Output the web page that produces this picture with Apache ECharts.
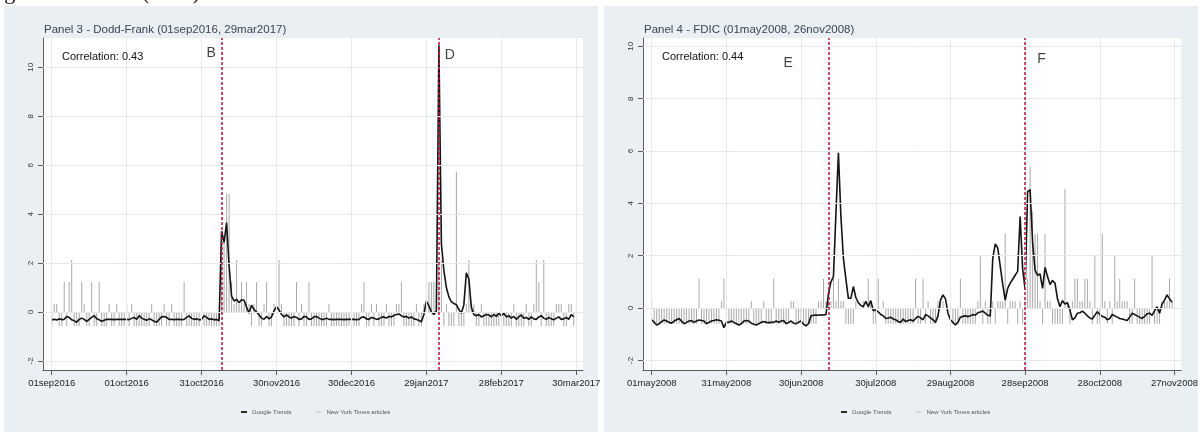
<!DOCTYPE html>
<html>
<head>
<meta charset="utf-8">
<script src="https://cdn.jsdelivr.net/npm/echarts@6/dist/echarts.min.js"></script>
<style>
html, body { margin: 0; padding: 0; background: #fff; }
#chart { width: 1201px; height: 434px; }
</style>
</head>
<body>
<div id="chart"></div>
<script>
// tick positions are day offsets from the first date of each panel
const xTicks = [0, 30, 60, 90, 120, 150, 180, 210];
const yTicks = [-2, 0, 2, 4, 6, 8, 10];
const xLabels3 = ['01sep2016', '01oct2016', '31oct2016', '30nov2016', '30dec2016', '29jan2017', '28feb2017', '30mar2017'];
const xLabels4 = ['01may2008', '31may2008', '30jun2008', '30jul2008', '29aug2008', '28sep2008', '28oct2008', '27nov2008'];

// Panel 3 - Dodd-Frank, daily from 01sep2016
const trends3 = [
    -0.32, -0.30, -0.33, -0.28, -0.31, -0.30, -0.18, -0.22, -0.32, -0.36,
    -0.42, -0.30, -0.25, -0.30, -0.38, -0.30, -0.22, -0.15, -0.28, -0.32,
    -0.38, -0.34, -0.30, -0.30, -0.30, -0.31, -0.30, -0.30, -0.30, -0.30,
    -0.30, -0.31, -0.26, -0.22, -0.30, -0.15, -0.25, -0.30, -0.34, -0.28,
    -0.32, -0.38, -0.42, -0.30, -0.20, -0.18, -0.22, -0.30, -0.30, -0.31,
    -0.30, -0.30, -0.31, -0.30, -0.22, -0.16, -0.26, -0.30, -0.28, -0.32,
    -0.30, -0.15, -0.22, -0.30, -0.28, -0.32, -0.30, -0.36, 3.30, 2.85,
    3.65, 1.90, 0.65, 0.45, 0.52, 0.38, 0.50, 0.48, 0.20, -0.05,
    0.28, 0.10, 0.00, -0.12, -0.25, -0.30, -0.18, -0.28, -0.20, 0.05,
    0.22, 0.08, -0.10, -0.20, -0.12, -0.20, -0.25, -0.18, -0.22, -0.30,
    -0.28, -0.18, -0.20, -0.30, -0.28, -0.20, -0.18, -0.25, -0.30, -0.30,
    -0.25, -0.30, -0.30, -0.31, -0.30, -0.30, -0.30, -0.31, -0.30, -0.30,
    -0.30, -0.30, -0.31, -0.30, -0.22, -0.20, -0.28, -0.30, -0.22, -0.25,
    -0.30, -0.28, -0.22, -0.20, -0.25, -0.18, -0.20, -0.14, -0.10, -0.08,
    -0.15, -0.20, -0.18, -0.25, -0.20, -0.28, -0.30, -0.35, -0.40, -0.10,
    0.45, 0.25, 0.00, -0.10, 0.05, 10.90, 2.80, 1.70, 1.00, 0.62,
    0.42, 0.35, 0.30, 0.10, -0.05, 0.30, 1.60, 1.35, 0.20, -0.10,
    -0.15, -0.10, -0.20, -0.15, -0.10, -0.12, -0.20, -0.10, -0.18, -0.05,
    -0.15, -0.05, -0.20, -0.15, -0.25, -0.18, -0.30, -0.20, -0.12, -0.25,
    -0.22, -0.30, -0.20, -0.28, -0.30, -0.20, -0.15, -0.25, -0.30, -0.22,
    -0.28, -0.32, -0.25, -0.20, -0.30, -0.28, -0.22, -0.30, -0.10, -0.20
];
const nyt3 = [
    -0.57, 0.33, 0.33, -0.57, -0.57, 1.23, -0.57, 1.23, 2.13, -0.57,
    -0.57, -0.57, 1.23, 0.33, -0.57, -0.57, 1.23, -0.57, -0.57, 1.23,
    -0.57, -0.57, -0.57, 0.33, -0.57, -0.57, 0.33, -0.57, -0.57, -0.57,
    0.33, -0.57, 0.33, -0.57, -0.57, -0.57, -0.57, -0.57, -0.57, -0.57,
    0.33, -0.57, -0.57, -0.57, -0.57, 0.33, -0.57, -0.57, 0.33, -0.57,
    -0.57, -0.57, -0.57, 1.23, -0.57, -0.57, -0.57, -0.57, -0.57, -0.57,
    0.33, -0.57, -0.57, -0.57, -0.57, -0.57, -0.57, -0.57, 2.13, 3.03,
    4.83, 4.83, 1.23, 0.33, 2.13, 0.33, 1.23, 0.33, 1.23, 0.33,
    -0.57, 0.33, 1.23, -0.57, -0.57, 0.33, 1.23, -0.57, -0.57, 0.33,
    -0.57, 2.13, 0.33, -0.57, -0.57, -0.57, -0.57, -0.57, 1.23, -0.57,
    0.33, -0.57, -0.57, 1.23, -0.57, -0.57, -0.57, -0.57, -0.57, -0.57,
    -0.57, 0.33, -0.57, -0.57, -0.57, -0.57, -0.57, -0.57, -0.57, -0.57,
    -0.57, -0.57, -0.57, -0.57, 0.33, 1.23, -0.57, -0.57, 0.33, -0.57,
    0.33, -0.57, -0.57, -0.57, 0.33, -0.57, -0.57, -0.57, 0.33, 0.33,
    1.23, -0.57, -0.57, -0.57, -0.57, -0.57, 0.33, -0.57, -0.57, 0.33,
    1.23, 1.23, 1.23, 1.23, 1.23, 2.13, 2.13, -0.57, 0.33, -0.57,
    -0.57, -0.57, 5.73, -0.57, -0.57, -0.57, 0.33, 2.13, 0.33, 0.33,
    -0.57, -0.57, 0.33, -0.57, -0.57, -0.57, -0.57, -0.57, -0.57, -0.57,
    0.33, -0.57, -0.57, -0.57, -0.57, 0.33, -0.57, -0.57, -0.57, -0.57,
    0.33, -0.57, -0.57, 0.33, 2.13, 1.23, -0.57, 2.13, -0.57, -0.57,
    -0.57, -0.57, 0.33, 0.33, 0.33, -0.57, -0.57, 0.33, 0.33, -0.57
];

// Panel 4 - FDIC, daily from 01may2008
const trends4 = [
    -0.45, -0.55, -0.65, -0.60, -0.52, -0.46, -0.50, -0.55, -0.58, -0.50,
    -0.45, -0.40, -0.50, -0.60, -0.55, -0.50, -0.48, -0.55, -0.50, -0.46,
    -0.48, -0.50, -0.60, -0.55, -0.50, -0.48, -0.45, -0.47, -0.50, -0.75,
    -0.55, -0.55, -0.50, -0.55, -0.60, -0.65, -0.60, -0.50, -0.48, -0.50,
    -0.58, -0.62, -0.65, -0.60, -0.55, -0.52, -0.55, -0.56, -0.55, -0.55,
    -0.50, -0.55, -0.50, -0.48, -0.60, -0.55, -0.50, -0.58, -0.60, -0.55,
    -0.50, -0.62, -0.68, -0.60, -0.30, -0.28, -0.27, -0.28, -0.26, -0.27,
    -0.25, 0.55, 1.00, 1.20, 3.60, 5.93, 3.50, 1.90, 1.10, 0.37,
    0.37, 0.82, 0.40, 0.20, 0.10, 0.05, 0.25, 0.05, 0.28, -0.10,
    -0.08, -0.15, -0.25, -0.30, -0.40, -0.38, -0.35, -0.42, -0.45, -0.52,
    -0.55, -0.42, -0.52, -0.48, -0.45, -0.50, -0.40, -0.32, -0.38, -0.45,
    -0.25, -0.30, -0.38, -0.45, -0.55, -0.30, 0.30, 0.50, 0.35, -0.20,
    -0.45, -0.55, -0.65, -0.55, -0.35, -0.32, -0.30, -0.33, -0.30, -0.25,
    -0.28, -0.18, -0.15, -0.12, -0.20, -0.28, -0.30, 1.90, 2.45, 2.30,
    1.60, 0.90, 0.30, 0.75, 0.95, 1.10, 1.25, 1.40, 3.50, 1.50,
    0.70, 4.45, 4.52, 2.50, 1.45, 1.25, 1.30, 0.75, 1.55, 1.20,
    0.90, 1.05, 0.95, 0.35, 0.05, 0.28, 0.15, 0.20, -0.08, -0.45,
    -0.38, -0.20, -0.18, -0.12, -0.20, -0.30, -0.38, -0.42, -0.28, -0.14,
    -0.25, -0.32, -0.35, -0.45, -0.40, -0.25, -0.30, -0.35, -0.40, -0.42,
    -0.45, -0.48, -0.35, -0.20, -0.25, -0.30, -0.35, -0.40, -0.32, -0.22,
    -0.20, -0.28, -0.10, 0.05, -0.20, 0.15, 0.30, 0.50, 0.35, 0.22
];
const nyt4 = [
    0.26, -0.60, -0.60, -0.60, -0.60, -0.60, -0.60, -0.60, -0.60, -0.60,
    -0.60, -0.60, -0.60, -0.60, -0.60, -0.60, -0.60, -0.60, -0.60, 1.12,
    -0.60, -0.60, -0.60, -0.60, -0.60, -0.60, -0.60, -0.60, 0.26, 1.12,
    -0.60, -0.60, -0.60, -0.60, -0.60, -0.60, -0.60, -0.60, -0.60, -0.60,
    0.26, -0.60, -0.60, -0.60, -0.60, 0.26, -0.60, -0.60, -0.60, 1.12,
    -0.60, -0.60, -0.60, -0.60, -0.60, -0.60, 0.26, 0.26, -0.60, -0.60,
    -0.60, -0.60, -0.60, -0.60, -0.60, -0.60, -0.60, 0.26, 0.26, 1.12,
    0.26, 0.26, 0.26, 1.12, 0.26, 1.12, 0.26, 0.26, -0.60, -0.60,
    -0.60, -0.60, 0.26, null, null, 0.26, null, 1.12, 0.26, -0.60,
    -0.60, 1.12, null, 0.26, -0.60, -0.60, -0.60, -0.60, -0.60, -0.60,
    -0.60, -0.60, -0.60, -0.60, -0.60, -0.60, 1.12, -0.60, -0.60, 1.12,
    -0.60, 0.26, -0.60, -0.60, -0.60, 0.26, 0.26, 0.26, null, null,
    -0.60, -0.60, -0.60, -0.60, 1.12, -0.60, -0.60, -0.60, -0.60, -0.60,
    -0.60, 0.26, 1.98, -0.60, 0.26, -0.60, -0.60, 0.26, -0.60, 0.26,
    0.26, 0.26, 2.84, -0.60, 0.26, 0.26, 0.26, -0.60, 0.26, -0.60,
    0.26, 1.12, 5.42, 3.70, 2.84, 2.84, 0.26, -0.60, 2.84, 0.26,
    0.26, -0.60, -0.60, -0.60, -0.60, -0.60, 4.56, 0.26, -0.60, 0.26,
    1.12, 1.12, 0.26, 0.26, 1.12, 1.12, 0.26, -0.60, 1.98, -0.60,
    -0.60, 2.84, 0.26, -0.60, 0.26, -0.60, 1.98, 0.26, 1.12, 0.26,
    0.26, 0.26, -0.60, -0.60, 1.12, -0.60, -0.60, -0.60, -0.60, -0.60,
    -0.60, 1.98, -0.60, -0.60, -0.60, 0.26, 0.26, 0.26, 1.12, 0.26
];

// event lines (day offsets) and their letters
const events3 = [68, 155];
const events4 = [71, 150];
const eventNames3 = ['B', 'D'];
const eventNames4 = ['E', 'F'];
const eventTextAt3 = [[63.8, 10.6], [159.4, 10.5]];
const eventTextAt4 = [[54.8, 9.35], [156.6, 9.5]];

const panels = [
    {title: 'Panel 3 - Dodd-Frank (01sep2016, 29mar2017)', corr: 'Correlation: 0.43', offset: 0, yMax: 11.2,
        xLabels: xLabels3, trends: trends3, nyt: nyt3, events: events3, names: eventNames3, textAt: eventTextAt3},
    {title: 'Panel 4 - FDIC (01may2008, 26nov2008)', corr: 'Correlation: 0.44', offset: 600, yMax: 10.32,
        xLabels: xLabels4, trends: trends4, nyt: nyt4, events: events4, names: eventNames4, textAt: eventTextAt4}
];

const font = '"Liberation Sans", Arial, sans-serif';
let grids = [], xAxes = [], yAxes = [], series = [], titles = [], legends = [], graphics = [];

panels.forEach(function (p, i) {
    graphics.push({type: 'rect', z: -10, silent: true,
        shape: {x: 4 + p.offset, y: 6, width: 594, height: 426}, style: {fill: '#e9eff2'}});

    grids.push({left: 43 + p.offset, top: 38, width: 540, height: 332,
        show: true, backgroundColor: '#ffffff', borderWidth: 0});

    xAxes.push({
        type: 'value', gridIndex: i, min: -3.5, max: 212.7,
        axisLine: {show: true, onZero: false, lineStyle: {color: '#5c5c5c', width: 1}},
        axisTick: {show: true, length: 5, customValues: xTicks, lineStyle: {color: '#5c5c5c'}},
        axisLabel: {customValues: xTicks, fontSize: 9.5, color: '#222', margin: 8, fontFamily: font,
            formatter: function (v) { return p.xLabels[xTicks.indexOf(v)]; }},
        splitLine: {show: false}
    });
    yAxes.push({
        type: 'value', gridIndex: i, min: -2.37, max: p.yMax,
        axisLine: {show: true, onZero: false, lineStyle: {color: '#5c5c5c', width: 1}},
        axisTick: {show: true, length: 5, customValues: yTicks, lineStyle: {color: '#5c5c5c'}},
        axisLabel: {customValues: yTicks, rotate: 90, fontSize: 8, color: '#333', margin: 8, fontFamily: font},
        splitLine: {show: false}
    });

    // light grid lines
    series.push({
        type: 'line', xAxisIndex: i, yAxisIndex: i, data: [], z: 1, silent: true,
        markLine: {
            silent: true, symbol: 'none', animation: false, label: {show: false},
            lineStyle: {color: '#e4e9ec', width: 1, type: 'solid'},
            data: xTicks.map(function (v) { return {xAxis: v}; })
                .concat(yTicks.map(function (v) { return {yAxis: v}; }))
        }
    });

    series.push({
        name: 'New York Times articles', type: 'bar', xAxisIndex: i, yAxisIndex: i,
        barWidth: 1, z: 2, itemStyle: {color: '#a9a9a9'},
        data: p.nyt.map(function (v, d) { return [d, v]; })
    });

    series.push({
        name: 'Google Trends', type: 'line', xAxisIndex: i, yAxisIndex: i,
        showSymbol: false, symbol: 'none', z: 3,
        lineStyle: {color: '#141414', width: 1.6}, itemStyle: {color: '#141414'},
        data: p.trends.map(function (v, d) { return [d, v]; }),
        markLine: {
            silent: true, symbol: 'none', animation: false, label: {show: false},
            lineStyle: {color: '#b3143e', width: 1.5, type: [3, 2]},
            data: p.events.map(function (d) { return {xAxis: d}; })
        }
    });

    series.push({
        type: 'scatter', xAxisIndex: i, yAxisIndex: i, symbolSize: 0, z: 5, silent: true,
        data: p.textAt.map(function (pt, k) { return {name: p.names[k], value: pt}; }),
        label: {show: true, position: 'inside', formatter: '{b}', fontSize: 14, color: '#111', fontFamily: font}
    });

    titles.push({text: p.title, left: 39 + p.offset, top: 19,
        textStyle: {fontSize: 11.5, fontWeight: 'normal', color: '#3a4654', fontFamily: font}});
    titles.push({text: p.corr, left: 57 + p.offset, top: 46,
        textStyle: {fontSize: 11, fontWeight: 'normal', color: '#111', fontFamily: font}});

    legends.push({
        left: 236 + p.offset, top: 404, itemWidth: 6, itemHeight: 6, itemGap: 24, selectedMode: false,
        textStyle: {fontSize: 6, color: '#555', fontFamily: font},
        data: [{name: 'Google Trends', icon: 'path://M0,0H10V3H0Z'},
            {name: 'New York Times articles', icon: 'path://M0,0H10V1H0Z'}]
    });
});

// figure caption cut off at the top of the page
graphics.push({type: 'text', silent: true, style: {text: 'Figure A.10', x: -14, y: 4, verticalAlign: 'bottom',
    font: '22px "Liberation Serif", serif', fill: '#111'}});
graphics.push({type: 'text', silent: true, style: {text: '(cont.)', x: 142, y: 4, verticalAlign: 'bottom',
    font: '22px "Liberation Serif", serif', fill: '#111'}});

let myChart = echarts.init(document.getElementById('chart'));
myChart.setOption({
    animation: false,
    backgroundColor: '#ffffff',
    textStyle: {fontFamily: font},
    title: titles,
    legend: legends,
    grid: grids,
    xAxis: xAxes,
    yAxis: yAxes,
    graphic: graphics,
    series: series
});
</script>
</body>
</html>
